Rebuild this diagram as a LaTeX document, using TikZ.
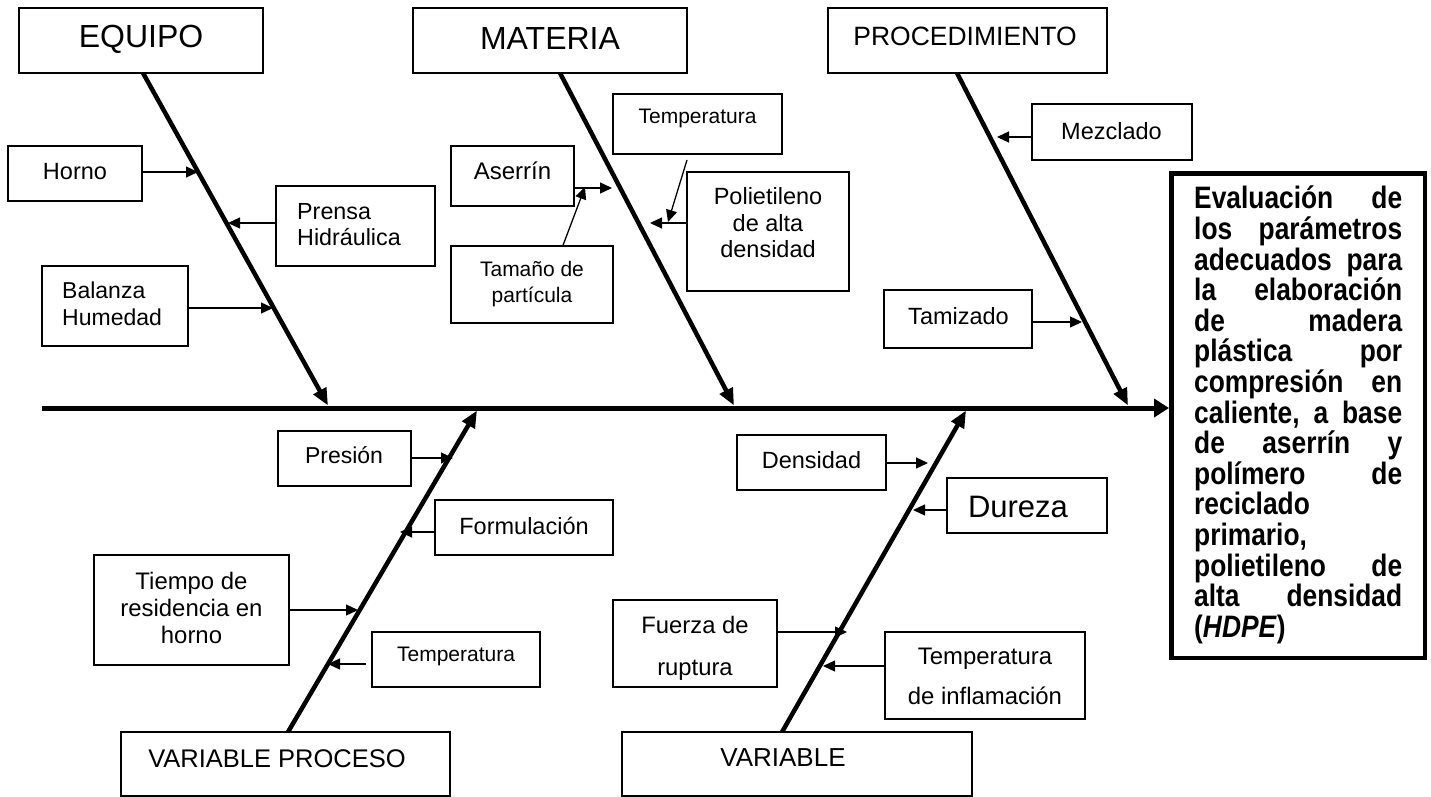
\documentclass[tikz,border=0pt]{standalone}
\usepackage{fontspec}
\setmainfont{Liberation Sans}
\newfontfamily\narrowfam[FakeStretch=0.85]{Liberation Sans}
\usetikzlibrary{arrows.meta}
\newcommand\fsz[2]{\fontsize{#1}{#2}\selectfont}
\begin{document}
\begin{tikzpicture}[x=1pt,y=-1pt,
  box/.style={draw, line width=1.3pt, inner sep=0pt},
  txt/.style={inner sep=0pt, align=center},
  bone/.style={line width=4.5pt, -{Triangle[length=17pt,width=14pt]}},
  sub/.style={line width=1.3pt, -{Triangle[length=12pt,width=11pt]}},
  spine/.style={line width=5pt, -{Triangle[length=15pt,width=18pt]}}]
\useasboundingbox (0,0) rectangle (1431,797);

% ---------- boxes ----------
\node[box, minimum width=244pt, minimum height=65pt] (equipo) at (141,40.5) {};
\node[box, minimum width=274pt, minimum height=65pt] (materia) at (550,40.5) {};
\node[box, minimum width=279pt, minimum height=65pt] (proc) at (967.5,40.5) {};
\node[box, minimum width=134pt, minimum height=55pt] (horno) at (75,173.5) {};
\node[box, minimum width=159pt, minimum height=80pt] (prensa) at (355.5,226) {};
\node[box, minimum width=146pt, minimum height=80pt] (balanza) at (115,306) {};
\node[box, minimum width=123pt, minimum height=60pt] (aserrin) at (512.5,176) {};
\node[box, minimum width=169pt, minimum height=60pt] (temptop) at (697.5,124) {};
\node[box, minimum width=162pt, minimum height=77pt] (tamano) at (532,284.5) {};
\node[box, minimum width=162pt, minimum height=119pt] (polie) at (768,231.5) {};
\node[box, minimum width=160pt, minimum height=56pt] (mezc) at (1112,132) {};
\node[box, minimum width=148pt, minimum height=58pt] (tamiz) at (958,319) {};
\node[box, minimum width=133pt, minimum height=55pt] (presion) at (344.5,458.5) {};
\node[box, minimum width=178pt, minimum height=55pt] (form) at (524,527.5) {};
\node[box, minimum width=195pt, minimum height=110pt] (tiempo) at (191.5,610) {};
\node[box, minimum width=168pt, minimum height=55pt] (tempb) at (456,659.5) {};
\node[box, minimum width=329pt, minimum height=64pt] (vp) at (285.5,764) {};
\node[box, minimum width=149pt, minimum height=55pt] (dens) at (811.5,462.5) {};
\node[box, minimum width=160pt, minimum height=55pt] (dur) at (1027,505.5) {};
\node[box, minimum width=164pt, minimum height=87pt] (fuerza) at (695,643.5) {};
\node[box, minimum width=200pt, minimum height=87pt] (tinf) at (985,675.5) {};
\node[box, minimum width=350pt, minimum height=64pt] (var) at (797,764) {};
\node[draw, line width=4.5pt, inner sep=0pt, minimum width=253.5pt, minimum height=484.5pt] (goal) at (1298,415.5) {};

% ---------- texts ----------
\node[txt, font=\fsz{32}{36}] (equipo-t) at (141,39) {EQUIPO};
\node[txt, font=\fsz{32}{36}] (materia-t) at (550,38.5) {MATERIA};
\node[txt, font=\fsz{26.5}{30}] (proc-t) at (965,36) {PROCEDIMIENTO};
\node[txt, font=\fsz{23.5}{27}] (horno-t) at (75,172) {Horno};
\node[txt, align=left, anchor=west, font=\fsz{23.3}{26.5}] (prensa-t) at (297,224.5) {Prensa\\Hidráulica};
\node[txt, align=left, anchor=west, font=\fsz{23}{27}] (balanza-t) at (62,304) {Balanza\\Humedad};
\node[txt, font=\fsz{24}{27}] (aserrin-t) at (512.5,170.5) {Aserrín};
\node[txt, font=\fsz{21}{24}] (temptop-t) at (697.5,118) {Temperatura};
\node[txt, font=\fsz{21}{26}] (tamano-t) at (532,284) {Tamaño de\\partícula};
\node[txt, font=\fsz{23.5}{26.5}] (polie-t) at (768,223) {Polietileno\\de alta\\densidad};
\node[txt, font=\fsz{23.5}{27}] (mezc-t) at (1111.5,131) {Mezclado};
\node[txt, font=\fsz{23.5}{27}] (tamiz-t) at (958.5,316) {Tamizado};
\node[txt, font=\fsz{23}{27}] (presion-t) at (344,455) {Presión};
\node[txt, font=\fsz{23.5}{27}] (form-t) at (524,526) {Formulación};
\node[txt, font=\fsz{23.9}{27}] (tiempo-t) at (191.5,608) {Tiempo de\\residencia en\\horno};
\node[txt, font=\fsz{21}{24}] (tempb-t) at (456,656) {Temperatura};
\node[txt, font=\fsz{25.5}{29}] (vp-t) at (277,758.5) {VARIABLE PROCESO};
\node[txt, font=\fsz{23.5}{27}] (dens-t) at (811.5,460) {Densidad};
\node[txt, font=\fsz{31}{35}] (dur-t) at (1018,507) {Dureza};
\node[txt, font=\fsz{23.8}{42}] (fuerza-t) at (695,648) {Fuerza de\\ruptura};
\node[txt, font=\fsz{23.9}{40}] (tinf-t) at (985,676.5) {Temperatura\\de inflamación};
\node[txt, font=\fsz{26}{30}] (var-t) at (783,758) {VARIABLE};
\node[txt, align=left, anchor=north west, font=\narrowfam\bfseries\fsz{31}{30.6}] (goal-t) at (1194,186) {%
\hbox to 208pt{Evaluación\hfill de}\\
\hbox to 208pt{los\hfill parámetros}\\
\hbox to 208pt{adecuados\hfill para}\\
\hbox to 208pt{la\hfill elaboración}\\
\hbox to 208pt{de\hfill madera}\\
\hbox to 208pt{plástica\hfill por}\\
\hbox to 208pt{compresión\hfill en}\\
\hbox to 208pt{caliente,\hfill a\hfill base}\\
\hbox to 208pt{de\hfill aserrín\hfill y}\\
\hbox to 208pt{polímero\hfill de}\\
reciclado\\
primario,\\
\hbox to 208pt{polietileno\hfill de}\\
\hbox to 208pt{alta\hfill densidad}\\
(\textit{HDPE})};

% ---------- spine ----------
\coordinate (spL) at (42,408);
\draw[spine] (spL) -- (spL -| goal.west);

% ---------- bones ----------
\coordinate (eqN) at (143,73);   \coordinate (eqS) at (328,405.5);
\coordinate (maN) at (560,73);   \coordinate (maS) at (734,405.5);
\coordinate (prN) at (957,73);   \coordinate (prS) at (1128,405.5);
\coordinate (vpN) at (288,732);  \coordinate (vpS) at (477,410.5);
\coordinate (vaN) at (782,732);  \coordinate (vaS) at (966,410.5);
\draw[bone] (eqN) -- (eqS);
\draw[bone] (maN) -- (maS);
\draw[bone] (prN) -- (prS);
\draw[bone] (vpN) -- (vpS);
\draw[bone] (vaN) -- (vaS);

% ---------- sub-causes ----------
\coordinate (hornoT) at (198,172);
\coordinate (prensaT) at (228,223);
\coordinate (balT) at (273,308);
\coordinate (aserT) at (612,188);
\coordinate (tamT) at (585,187);
\coordinate (ttS) at (687,160);   \coordinate (ttT) at (668,222);
\coordinate (polT) at (650,223);
\coordinate (mezT) at (997,137);
\coordinate (tamizT) at (1082,322);
\coordinate (presT) at (453,458);
\coordinate (formT) at (400,532);
\coordinate (tiempoT) at (358,610);
\coordinate (tbS) at (366,664);   \coordinate (tbT) at (328,664);
\coordinate (densT) at (928,463);
\coordinate (durT) at (913,510);
\coordinate (fuerzaT) at (847,632);
\coordinate (tinfT) at (823,666);

\draw[sub] (horno.east |- hornoT) -- (hornoT);
\draw[sub] (prensa.west |- prensaT) -- (prensaT);
\draw[sub] (balanza.east |- balT) -- (balT);
\draw[sub] (aserrin.east |- aserT) -- (aserT);
\draw[sub] (tamano.north -| 563,0) -- (tamT);
\draw[sub] (ttS) -- (ttT);
\draw[sub] (polie.west |- polT) -- (polT);
\draw[sub] (mezc.west |- mezT) -- (mezT);
\draw[sub] (tamiz.east |- tamizT) -- (tamizT);
\draw[sub] (presion.east |- presT) -- (presT);
\draw[sub] (form.west |- formT) -- (formT);
\draw[sub] (tiempo.east |- tiempoT) -- (tiempoT);
\draw[sub] (tbS) -- (tbT);
\draw[sub] (dens.east |- densT) -- (densT);
\draw[sub] (dur.west |- durT) -- (durT);
\draw[sub] (fuerza.east |- fuerzaT) -- (fuerzaT);
\draw[sub] (tinf.west |- tinfT) -- (tinfT);
\end{tikzpicture}
\end{document}
